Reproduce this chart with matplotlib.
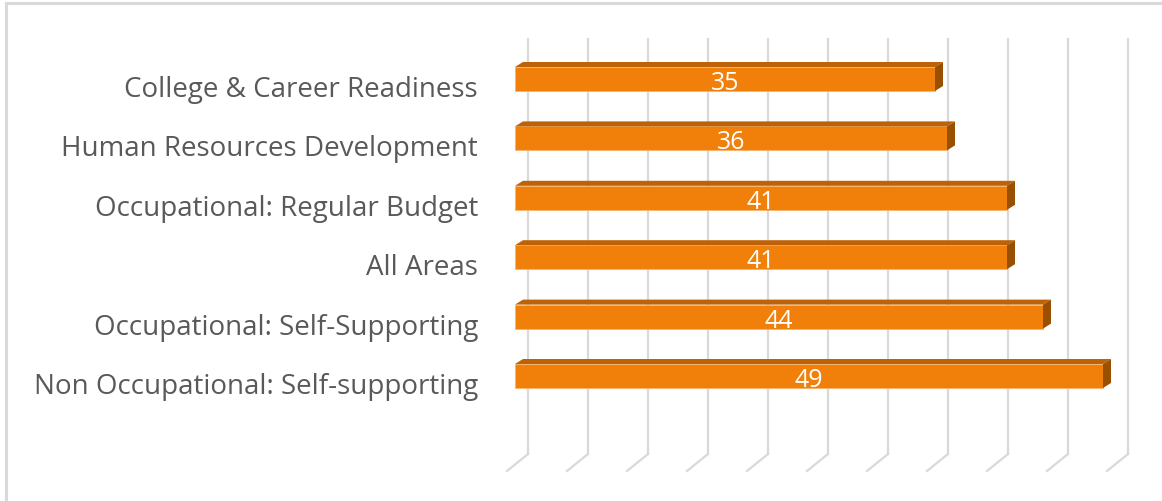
import matplotlib.pyplot as plt
import matplotlib.patches as mpatches
import numpy as np

categories = [
    "College & Career Readiness",
    "Human Resources Development",
    "Occupational: Regular Budget",
    "All Areas",
    "Occupational: Self-Supporting",
    "Non Occupational: Self-supporting",
]
values = [35, 36, 41, 41, 44, 49]
grid_ticks = np.arange(0, 55, 5)

FRONT = "#F08009"
TOP = "#BD6206"
SIDE = "#9A5003"
EDGE = "#F8B26A"
GRID = "#D9D9D9"
LABEL = "#595959"

plt.rcParams["font.family"] = ["Open Sans", "DejaVu Sans"]

W, H = 1162, 502
fig = plt.figure(figsize=(W / 100, H / 100), dpi=100)

# frame around the chart area
fig.patches.append(mpatches.Rectangle((5.5 / W, -0.1), 1.2, (H - 3.5) / H + 0.1,
                                      transform=fig.transFigure, fill=False,
                                      edgecolor=GRID, linewidth=2.2))

# axes placed in pixels: value 0 at x=515, 12 px per unit; rows 59.4 px apart
px_unit = 12.0
row_px = 59.4
y0_px = 80.0
ax_top, ax_bot = 40.0, 472.0
ax = fig.add_axes([515 / W, (H - ax_bot) / H, 50 * px_unit / W, (ax_bot - ax_top) / H])
ax.set_xlim(0, 50)
ax.set_ylim((ax_bot - y0_px) / row_px, (ax_top - y0_px) / row_px)
ax.axis("off")

# depth offsets in data units
bar_dx, bar_dy = 8 / px_unit, 5 / row_px
back_dx = 13 / px_unit
front_dx = -8 / px_unit
wall_bottom = (455 - y0_px) / row_px
floor_front = (472 - y0_px) / row_px
wall_top = (ax_top - y0_px) / row_px

for t in grid_ticks:
    ax.plot([t + back_dx, t + back_dx], [wall_top, wall_bottom], color=GRID,
            linewidth=1.6, zorder=1, clip_on=False)
    ax.plot([t + back_dx, t + front_dx], [wall_bottom, floor_front], color=GRID,
            linewidth=1.6, zorder=1, clip_on=False)

bar_h = 24 / row_px
ypos = np.arange(len(categories))
ax.barh(ypos, values, height=bar_h, color=FRONT, edgecolor=EDGE, linewidth=0.6, zorder=3)

for y, v in zip(ypos, values):
    top = y - bar_h / 2
    bot = y + bar_h / 2
    top_face = [(0, top), (v, top), (v + bar_dx, top - bar_dy), (bar_dx, top - bar_dy)]
    side_face = [(v, top), (v + bar_dx, top - bar_dy), (v + bar_dx, bot - bar_dy), (v, bot)]
    ax.add_patch(mpatches.Polygon(top_face, closed=True, facecolor=TOP, edgecolor="none", zorder=3))
    ax.add_patch(mpatches.Polygon(side_face, closed=True, facecolor=SIDE, edgecolor="none", zorder=3))
    ax.text(v / 2, y + 10 / row_px, f"{v}", ha="center", va="baseline", color="white",
            fontsize=18, zorder=4)
    ax.text(-37 / px_unit, y + 17 / row_px, categories[y], ha="right", va="baseline",
            color=LABEL, fontsize=20, clip_on=False)

fig.savefig("out.png", dpi=100, facecolor="white")
